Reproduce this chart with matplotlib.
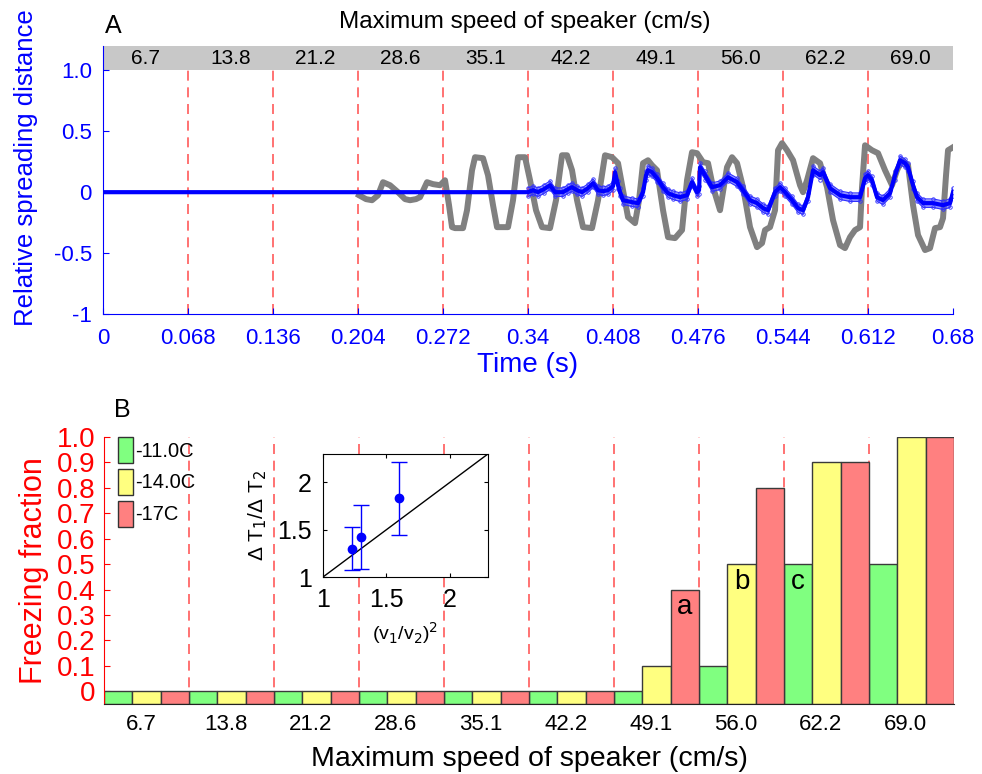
import matplotlib.pyplot as plt
import numpy as np
from matplotlib.patches import Patch

plt.rcParams['font.family'] = ['Liberation Sans', 'DejaVu Sans']
narrow = ['Liberation Sans Narrow', 'Liberation Sans', 'DejaVu Sans']

# one speaker speed per 0.068 s window
speeds = ['6.7', '13.8', '21.2', '28.6', '35.1', '42.2', '49.1', '56.0', '62.2', '69.0']
period = 0.068

# speaker trace (grey), starts at 0.204 s
t_grey = [0.2048, 0.2104, 0.2152, 0.220, 0.224, 0.2296, 0.236, 0.2416, 0.2456, 0.2504,
          0.2536, 0.2592, 0.264, 0.2696, 0.2736, 0.2768, 0.2792, 0.2816, 0.288, 0.2912,
          0.2952, 0.2976, 0.304, 0.308, 0.312, 0.3152, 0.324, 0.328, 0.332, 0.3376,
          0.3416, 0.3464, 0.3512, 0.3576, 0.3624, 0.3672, 0.3712, 0.3752, 0.3792, 0.384,
          0.3912, 0.396, 0.4016, 0.4072, 0.412, 0.416, 0.420, 0.4256, 0.4288, 0.432,
          0.436, 0.4392, 0.4432, 0.448, 0.452, 0.4576, 0.4632, 0.4672, 0.4712, 0.4752,
          0.480, 0.484, 0.488, 0.4936, 0.4992, 0.5032, 0.5072, 0.512, 0.5176, 0.5232,
          0.5272, 0.5296, 0.5336, 0.5376, 0.540, 0.5432, 0.5472, 0.552, 0.5576, 0.560,
          0.5632, 0.568, 0.5736, 0.5792, 0.584, 0.5896, 0.5936, 0.5976, 0.6016, 0.6056,
          0.6072, 0.6096, 0.6152, 0.620, 0.6256, 0.6312, 0.6352, 0.6392, 0.644, 0.648,
          0.652, 0.6576, 0.6616, 0.6656, 0.6696, 0.672, 0.6744, 0.676, 0.680]
v_grey = [-0.025, -0.057, -0.066, -0.025, 0.082, 0.057, 0.0, -0.057, -0.066, -0.057,
          -0.041, 0.082, 0.066, 0.057, 0.098, -0.107, -0.287, -0.295, -0.295, -0.148,
          0.180, 0.287, 0.279, 0.139, -0.107, -0.287, -0.287, -0.066, 0.287, 0.287,
          0.098, -0.148, -0.287, -0.295, -0.066, 0.303, 0.303, 0.180, -0.066, -0.287,
          -0.295, -0.066, 0.303, 0.287, 0.238, 0.016, -0.205, -0.254, -0.066, 0.238,
          0.262, 0.221, 0.180, -0.148, -0.369, -0.377, -0.311, 0.098, 0.328, 0.320,
          0.246, 0.238, 0.041, -0.148, 0.205, 0.287, 0.238, 0.041, -0.287, -0.451,
          -0.418, -0.311, -0.287, -0.148, 0.344, 0.402, 0.344, 0.262, 0.057, 0.0,
          0.098, 0.279, 0.238, 0.041, -0.230, -0.434, -0.459, -0.369, -0.311, -0.287,
          0.041, 0.385, 0.344, 0.320, 0.180, 0.057, 0.180, 0.262, 0.221, -0.107,
          -0.352, -0.475, -0.459, -0.295, -0.287, -0.213, 0.139, 0.344, 0.369]

# relative spreading distance (blue), flat until 0.34 s
t_blue = [0.0, 0.34, 0.344, 0.348, 0.3528, 0.3576, 0.3616, 0.368, 0.372, 0.3752,
          0.3792, 0.3832, 0.388, 0.392, 0.396, 0.400, 0.404, 0.408, 0.4096, 0.412,
          0.4136, 0.416, 0.4232, 0.428, 0.432, 0.4344, 0.436, 0.4392, 0.4432, 0.448,
          0.452, 0.456, 0.4616, 0.4672, 0.4712, 0.4752, 0.4768, 0.4776, 0.4816, 0.4872,
          0.4936, 0.500, 0.5072, 0.512, 0.5176, 0.5232, 0.528, 0.532, 0.5376, 0.5416,
          0.5456, 0.5512, 0.556, 0.560, 0.564, 0.568, 0.5736, 0.576, 0.5816, 0.5896,
          0.5976, 0.6056, 0.6096, 0.612, 0.6152, 0.6192, 0.624, 0.6296, 0.6336, 0.6376,
          0.6416, 0.644, 0.648, 0.6512, 0.656, 0.664, 0.672, 0.6776, 0.680]
v_blue = [0.0, 0.0, 0.016, 0.0, 0.025, 0.057, 0.0, 0.0, 0.025, 0.041,
          0.016, 0.0, 0.033, 0.074, 0.016, 0.008, 0.016, 0.049, 0.164, 0.057,
          0.0, -0.066, -0.082, -0.090, 0.0, 0.139, 0.180, 0.164, 0.115, 0.041,
          -0.008, -0.025, -0.041, -0.025, 0.082, 0.0, 0.016, 0.205, 0.139, 0.041,
          0.057, 0.123, 0.082, 0.016, -0.066, -0.090, -0.131, -0.148, 0.0, 0.041,
          0.0, -0.066, -0.131, -0.148, -0.041, 0.180, 0.139, 0.164, 0.033, -0.025,
          -0.041, -0.041, 0.115, 0.139, 0.098, -0.041, -0.066, -0.008, 0.139, 0.262,
          0.238, 0.205, 0.057, -0.041, -0.090, -0.090, -0.107, -0.090, 0.0]
blue_err = 0.035

# freezing fraction per speed, three temperatures
temps = ['-11.0C', '-14.0C', '-17C']
bar_colors = ['#80ff80', '#ffff80', '#ff8080']
freeze_11 = [0, 0, 0, 0, 0, 0, 0, 0.1, 0.5, 0.5]
freeze_14 = [0, 0, 0, 0, 0, 0, 0.1, 0.5, 0.9, 1.0]
freeze_17 = [0, 0, 0, 0, 0, 0, 0.4, 0.8, 0.9, 1.0]
# (group, temperature, letter)
bar_marks = [(6, 2, 'a'), (7, 1, 'b'), (8, 0, 'c')]

# inset: delay ratio vs squared speed ratio
ratio_v2 = [1.226, 1.297, 1.60]
ratio_dt = [1.296, 1.42, 1.83]
dt_lo = [1.07, 1.085, 1.444]
dt_hi = [1.525, 1.757, 2.22]

red_dash = dict(color='#ff5a5a', lw=1.2, dashes=(6, 4))

fig = plt.figure(figsize=(9.82, 7.74), dpi=100)

# %% panel A
ax = fig.add_axes([0.1049, 0.5943, 0.8656, 0.3463])
ax.set_xlim(0, 10 * period)
ax.set_ylim(-1, 1.2)
ax.axhspan(1.0, 1.2, color='#c8c8c8', lw=0, zorder=0)
for i, s in enumerate(speeds):
    ax.text((i + 0.5) * period, 1.1, s, ha='center', va='center', fontsize=15)
for k in range(1, 10):
    ax.plot([k * period, k * period], [-1, 1.0], zorder=1, **red_dash)

ax.plot(t_grey, v_grey, color='#808080', lw=4.3, solid_joinstyle='round', zorder=2)
tb = np.array(t_blue[1:])
vb = np.array(v_blue[1:])
ax.fill_between(tb, vb - blue_err, vb + blue_err, color='#5050ff', alpha=0.6, lw=0, zorder=3)
ax.plot(tb, vb + blue_err, color='#3030ff', lw=0.8, marker='o', ms=2.5, mfc='none', mew=0.6, zorder=3)
ax.plot(tb, vb - blue_err, color='#3030ff', lw=0.8, marker='o', ms=2.5, mfc='none', mew=0.6, zorder=3)
ax.plot(t_blue, v_blue, color='blue', lw=3.0, zorder=4)

xt = [k * period for k in range(11)]
ax.set_xticks(xt)
ax.set_xticklabels([f'{v:g}' for v in xt])
ax.set_yticks([-1, -0.5, 0, 0.5, 1.0])
ax.set_yticklabels(['-1', '-0.5', '0', '0.5', '1.0'])
ax.tick_params(direction='in', colors='blue', labelsize=16, length=4)
ax.tick_params(axis='x', pad=10)
ax.tick_params(axis='y', pad=8)
for side in ['top', 'right']:
    ax.spines[side].set_visible(False)
for side in ['left', 'bottom']:
    ax.spines[side].set_color('blue')
ax.set_xlabel('Time (s)', color='blue', fontsize=20, labelpad=2)
ax.set_ylabel('Relative spreading distance', color='blue', fontsize=18.5)
ax.yaxis.set_label_coords(-0.077, 0.545)
fig.text(0.534, 0.972, 'Maximum speed of speaker (cm/s)', ha='center', va='center', fontsize=17.5)
fig.text(0.107, 0.967, 'A', ha='left', va='center', fontsize=18)

# %% panel B
ax2 = fig.add_axes([0.1059, 0.0904, 0.8656, 0.345])
ax2.set_xlim(0, 10 * period)
ax2.set_ylim(-0.05, 1.0)
for k in range(1, 10):
    ax2.plot([k * period, k * period], [-0.05, 1.0], zorder=1, **red_dash)

w = period / 3
groups = np.arange(len(speeds)) * period
freeze = [freeze_11, freeze_14, freeze_17]
for j, vals in enumerate(freeze):
    ax2.bar(groups + (j + 0.5) * w, np.array(vals) + 0.05, bottom=-0.05, width=w,
            color=bar_colors[j], edgecolor='#3a3a3a', lw=1.0, zorder=2)
for g, j, letter in bar_marks:
    ax2.text(groups[g] + (j + 0.5) * w, freeze[j][g] - 0.07, letter,
             ha='center', va='center', fontsize=20, zorder=3)

ax2.set_xticks(groups + 1.3 * w)
ax2.set_xticklabels(speeds, family=narrow, fontsize=16)
ax2.set_yticks(np.arange(0, 1.01, 0.1))
ax2.set_yticklabels([f'{v:.1f}' if v > 0 else '0' for v in np.arange(0, 1.01, 0.1)])
ax2.tick_params(axis='x', length=0, pad=7)
ax2.tick_params(axis='y', direction='in', colors='red', labelsize=20, length=4, pad=6)
for side in ['top', 'right']:
    ax2.spines[side].set_visible(False)
ax2.spines['left'].set_color('red')
ax2.spines['bottom'].set_color('#222222')
ax2.set_xlabel('Maximum speed of speaker (cm/s)', family=narrow, fontsize=20.5, labelpad=8)
ax2.set_ylabel('Freezing fraction', color='red', fontsize=22, labelpad=6)
handles = [Patch(facecolor=c, edgecolor='#333333', lw=1.0) for c in bar_colors]
ax2.legend(handles, temps, loc='upper left', bbox_to_anchor=(0.016, 1.0), frameon=False,
           handlelength=0.75, handleheight=1.6, handletextpad=0.1, labelspacing=0.3,
           fontsize=14.5, borderaxespad=0, borderpad=0)
fig.text(0.116, 0.470, 'B', ha='left', va='center', fontsize=18)

# %% inset
axi = fig.add_axes([0.3289, 0.2545, 0.168, 0.159])
axi.plot([1, 2.3], [1, 2.3], color='black', lw=1.0)
axi.errorbar(ratio_v2, ratio_dt,
             yerr=[np.array(ratio_dt) - np.array(dt_lo), np.array(dt_hi) - np.array(ratio_dt)],
             fmt='o', color='blue', ms=6, capsize=6, elinewidth=1.0, capthick=1.0)
axi.set_xlim(1, 2.3)
axi.set_ylim(1, 2.3)
axi.set_xticks([1, 1.5, 2])
axi.set_xticklabels(['1', '1.5', '2'])
axi.set_yticks([1, 1.5, 2])
axi.set_yticklabels(['1', '1.5', '2'])
axi.tick_params(direction='in', top=True, right=True, labelsize=18, length=3, pad=8)
axi.set_xlabel('(v$_1$/v$_2$)$^2$', fontsize=14, labelpad=6)
axi.set_ylabel('Δ T$_1$/Δ T$_2$', fontsize=15, labelpad=6)

fig.savefig('out.png', dpi=100)
